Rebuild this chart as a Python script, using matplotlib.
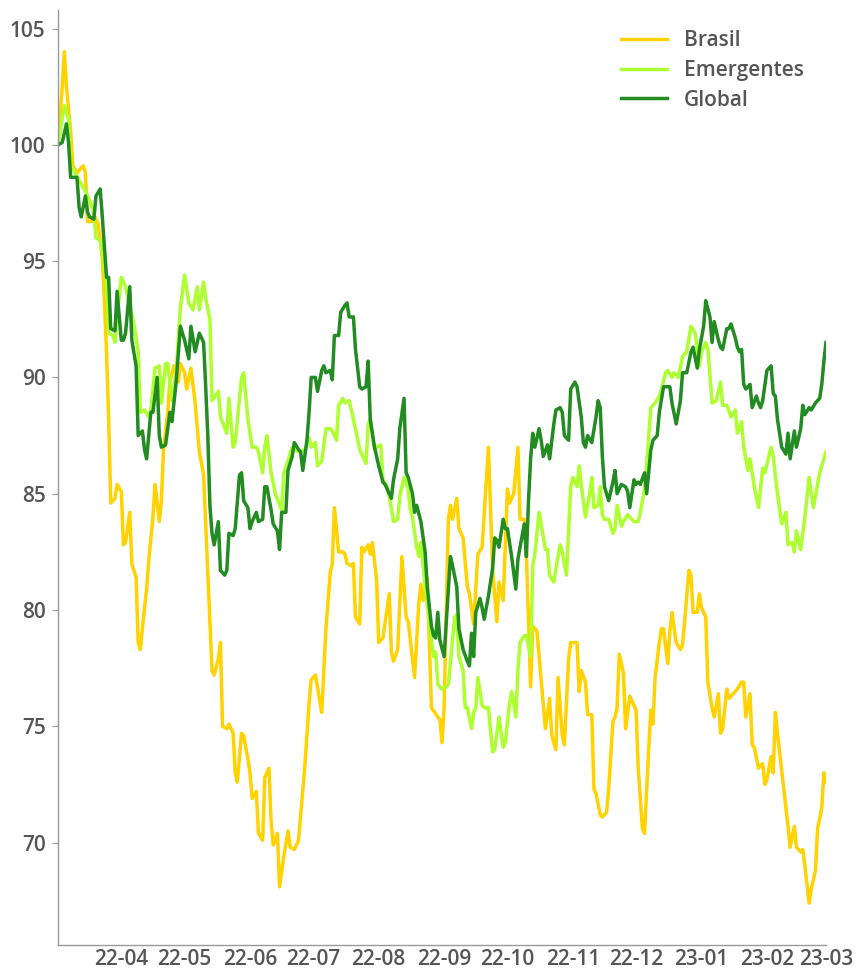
import matplotlib
matplotlib.use("Agg")
import matplotlib.pyplot as plt
import matplotlib.dates as mdates
import pandas as pd

start = pd.Timestamp("2022-03-01")

# Day offsets from 2022-03-01 and index values
brasil_days = [1, 3, 4, 5, 7, 8, 10, 11, 13, 14, 15, 17, 18, 20, 21, 22, 23, 24, 25, 26,
               28, 29, 31, 32, 33, 35, 36, 38, 39, 40, 42, 43, 44, 46, 47, 49, 50, 51, 53, 54,
               56, 58, 59, 61, 62, 64, 66, 68, 70, 72, 74, 75, 77, 78, 79, 81, 82, 84, 85, 86,
               88, 89, 91, 92, 93, 95, 96, 98, 99, 101, 102, 103, 105, 106, 108, 110, 111, 113, 115, 117,
               118, 120, 121, 123, 126, 128, 130, 131, 132, 134, 136, 137, 138, 140, 141, 142, 144, 145, 146, 148,
               149, 150, 152, 153, 155, 158, 159, 160, 162, 164, 166, 167, 170, 172, 173, 174, 176, 178, 181, 182,
               183, 184, 186, 187, 188, 190, 191, 193, 195, 196, 198, 200, 202, 205, 207, 209, 210, 212, 214, 215,
               217, 219, 220, 222, 223, 225, 226, 228, 232, 234, 235, 237, 238, 240, 241, 243, 244, 247, 248, 249,
               251, 252, 254, 255, 256, 258, 259, 261, 262, 264, 265, 266, 267, 269, 270, 272, 273, 275, 276, 278,
               279, 281, 282, 283, 284, 286, 287, 288, 290, 291, 292, 294, 296, 297, 298, 300, 301, 302, 304, 305,
               306, 308, 309, 311, 312, 314, 315, 316, 318, 319, 321, 323, 325, 326, 327, 329, 330, 331, 333, 335,
               336, 337, 339, 340, 341, 342, 344, 346, 347, 348, 350, 351, 353, 354, 355, 357, 358, 360, 361, 363,
               364, 365]
brasil_vals = [100.0, 102.5, 104.0, 102.5, 100.6, 99.1, 98.8, 98.9, 99.1, 98.8, 96.7, 96.7, 97.0, 96.6, 95.9, 95.1, 93.3, 91.1, 88.2, 84.6,
               84.8, 85.4, 85.1, 82.8, 82.9, 84.2, 82.0, 81.4, 78.6, 78.3, 80.1, 80.9, 82.1, 84.0, 85.4, 83.8, 84.7, 86.9, 88.5, 89.8,
               90.5, 89.8, 90.6, 90.2, 89.5, 90.4, 88.9, 86.8, 85.8, 81.6, 77.4, 77.2, 77.9, 78.6, 75.0, 74.9, 75.1, 74.7, 73.0, 72.6,
               74.7, 74.6, 73.6, 73.0, 71.9, 72.2, 70.4, 70.1, 72.8, 73.2, 70.9, 69.9, 70.4, 68.1, 69.4, 70.5, 69.8, 69.7, 70.1, 72.2,
               73.3, 76.0, 77.0, 77.2, 75.6, 79.2, 81.6, 82.0, 84.4, 82.5, 82.5, 82.4, 82.0, 81.9, 82.0, 79.7, 79.4, 82.7, 82.5, 82.8,
               82.4, 82.9, 81.3, 78.6, 78.8, 80.7, 78.2, 77.8, 78.3, 82.3, 79.7, 79.5, 77.1, 80.3, 81.1, 80.4, 81.4, 75.8, 75.4, 75.3,
               74.3, 75.8, 83.9, 84.5, 83.9, 84.8, 83.5, 83.1, 81.0, 80.7, 79.4, 82.4, 82.7, 87.0, 81.7, 79.5, 81.2, 80.4, 85.2, 84.6,
               85.0, 87.0, 83.9, 83.9, 82.4, 76.7, 79.3, 79.1, 74.9, 76.2, 74.6, 74.0, 77.1, 74.6, 74.2, 77.9, 78.6, 78.6, 76.5, 77.4,
               76.9, 75.5, 75.5, 72.3, 72.1, 71.2, 71.1, 71.3, 72.3, 75.2, 75.4, 75.8, 78.1, 77.3, 74.9, 76.3, 76.1, 75.7, 73.2, 70.6,
               70.4, 74.1, 75.7, 75.1, 77.1, 78.6, 79.2, 79.2, 77.7, 79.1, 79.9, 78.6, 78.3, 78.5, 79.5, 81.7, 81.5, 79.9, 79.9, 80.7,
               80.1, 79.7, 76.9, 75.8, 75.4, 76.4, 74.7, 74.9, 76.6, 76.2, 76.4, 76.6, 76.9, 76.9, 75.4, 76.4, 74.2, 74.1, 73.2, 73.4,
               72.5, 72.7, 73.7, 73.0, 75.6, 74.7, 73.1, 71.5, 70.7, 69.8, 70.7, 69.8, 69.6, 69.7, 69.0, 67.4, 68.0, 68.8, 70.6, 71.5,
               73.0, 72.6]

emerg_days = [1, 4, 6, 7, 9, 14, 16, 18, 19, 21, 22, 24, 25, 27, 28, 29, 31, 33, 34, 37,
              39, 40, 42, 44, 45, 47, 49, 50, 52, 53, 55, 57, 59, 61, 63, 65, 67, 68, 70, 71,
              73, 74, 77, 78, 81, 82, 84, 85, 88, 89, 91, 93, 95, 96, 98, 99, 100, 102, 104, 107,
              108, 110, 112, 115, 116, 118, 120, 121, 123, 124, 126, 128, 130, 131, 133, 134, 136, 137, 139, 141,
              144, 145, 147, 148, 149, 151, 152, 154, 155, 157, 159, 160, 162, 163, 165, 167, 168, 169, 171, 172,
              173, 175, 178, 179, 180, 181, 183, 185, 186, 189, 190, 191, 193, 194, 195, 197, 198, 199, 200, 202,
              203, 205, 207, 208, 210, 212, 213, 215, 216, 218, 219, 220, 222, 223, 225, 226, 227, 229, 230, 232,
              233, 234, 236, 237, 239, 240, 242, 243, 244, 245, 247, 248, 249, 251, 253, 254, 255, 257, 258, 259,
              260, 262, 264, 265, 266, 268, 269, 271, 272, 274, 276, 277, 279, 280, 282, 284, 286, 287, 289, 290,
              292, 293, 295, 297, 299, 301, 303, 305, 306, 308, 309, 310, 311, 313, 315, 316, 318, 320, 322, 323,
              325, 326, 328, 329, 331, 333, 335, 336, 339, 340, 342, 344, 346, 347, 349, 350, 351, 353, 355, 357,
              359, 362, 365]
emerg_vals = [100.0, 101.7, 101.1, 99.1, 98.8, 98.0, 97.6, 97.1, 96.0, 95.9, 95.4, 94.1, 91.9, 91.8, 91.5, 92.6, 94.3, 93.9, 93.5, 92.3,
              91.1, 88.5, 88.6, 88.3, 88.6, 90.4, 90.5, 88.9, 90.6, 90.6, 89.0, 90.2, 93.0, 94.4, 93.2, 92.9, 93.9, 92.9, 94.1, 93.4,
              92.5, 89.0, 89.4, 88.3, 87.6, 89.1, 87.0, 87.2, 90.0, 90.2, 88.2, 87.0, 87.0, 86.8, 85.9, 87.0, 87.5, 85.9, 85.0, 84.3,
              85.9, 86.4, 87.0, 86.8, 86.8, 86.9, 87.4, 87.0, 87.2, 86.2, 86.4, 87.8, 87.8, 87.7, 87.3, 88.8, 89.1, 88.9, 89.0, 88.2,
              86.9, 86.7, 86.3, 88.0, 88.2, 86.9, 87.0, 87.1, 85.6, 85.3, 84.4, 83.8, 83.9, 84.9, 85.7, 85.2, 84.3, 84.0, 82.7, 82.3,
              82.9, 81.0, 78.7, 78.0, 78.2, 76.8, 76.6, 76.7, 76.8, 79.7, 79.8, 78.0, 77.4, 75.8, 75.8, 74.9, 75.6, 75.8, 77.1, 75.9,
              75.8, 75.8, 73.9, 74.0, 75.4, 74.1, 74.3, 76.0, 76.5, 75.4, 77.4, 78.6, 78.9, 78.9, 78.0, 81.9, 82.4, 84.2, 83.7, 82.6,
              82.6, 81.5, 81.2, 81.8, 82.8, 82.5, 81.5, 83.4, 85.3, 85.7, 85.3, 86.2, 85.4, 84.0, 85.0, 85.7, 84.4, 84.5, 85.3, 84.1,
              83.9, 83.9, 83.3, 83.5, 84.5, 83.6, 83.8, 84.1, 84.0, 83.8, 83.8, 84.2, 85.2, 86.3, 88.7, 88.9, 89.2, 89.5, 90.2, 90.3,
              90.0, 90.2, 90.0, 90.9, 91.1, 92.2, 91.9, 90.5, 91.1, 91.5, 91.2, 90.1, 88.9, 89.0, 89.8, 88.8, 88.8, 88.3, 88.6, 87.6,
              88.1, 87.0, 86.0, 86.5, 85.3, 84.4, 86.1, 85.9, 87.0, 86.6, 85.0, 83.7, 84.2, 82.8, 82.9, 82.5, 83.4, 82.6, 84.0, 85.7,
              84.4, 85.9, 86.8]

global_days = [1, 3, 5, 6, 7, 9, 10, 11, 12, 14, 15, 16, 18, 19, 21, 22, 24, 25, 26, 28,
               29, 31, 32, 33, 35, 36, 38, 39, 41, 42, 43, 45, 46, 48, 49, 50, 52, 54, 55, 57,
               59, 61, 63, 64, 66, 68, 70, 71, 72, 73, 74, 75, 77, 78, 80, 81, 82, 84, 85, 87,
               88, 89, 91, 92, 93, 95, 96, 98, 99, 100, 102, 103, 105, 106, 107, 109, 110, 112, 113, 115,
               116, 117, 119, 120, 121, 123, 124, 126, 127, 128, 130, 131, 132, 134, 135, 137, 138, 139, 141, 142,
               144, 145, 147, 148, 149, 151, 153, 155, 156, 159, 160, 162, 163, 165, 166, 167, 169, 170, 171, 173,
               175, 176, 178, 179, 180, 181, 182, 184, 186, 187, 188, 190, 191, 193, 195, 196, 197, 198, 199, 201,
               202, 203, 205, 207, 208, 209, 210, 212, 213, 214, 216, 218, 219, 221, 222, 223, 224, 225, 226, 227,
               229, 230, 231, 233, 234, 236, 237, 239, 240, 241, 243, 244, 246, 247, 249, 250, 251, 252, 254, 256,
               257, 258, 259, 260, 262, 264, 265, 266, 268, 270, 271, 272, 274, 275, 276, 277, 279, 280, 282, 283,
               285, 286, 288, 291, 292, 294, 296, 297, 299, 301, 302, 304, 305, 307, 308, 310, 311, 312, 314, 315,
               316, 318, 319, 320, 322, 323, 324, 325, 326, 327, 329, 330, 332, 333, 334, 335, 337, 339, 340, 341,
               342, 344, 346, 347, 348, 350, 351, 353, 354, 355, 357, 358, 360, 362, 363, 364, 365]
global_vals = [100.0, 100.1, 100.9, 100.1, 98.6, 98.6, 98.6, 97.3, 96.9, 97.8, 97.1, 96.9, 96.8, 97.8, 98.1, 96.9, 94.3, 94.3, 92.1, 92.0,
               93.7, 91.6, 91.6, 91.9, 93.9, 91.6, 90.5, 87.5, 87.7, 86.9, 86.5, 88.5, 88.5, 90.0, 87.5, 87.0, 87.1, 88.5, 88.1, 89.8,
               92.2, 91.6, 90.8, 92.2, 91.1, 91.9, 91.5, 89.6, 87.5, 84.5, 83.3, 82.8, 83.8, 81.7, 81.5, 81.7, 83.3, 83.2, 83.5, 85.8,
               85.9, 84.7, 84.4, 83.5, 83.8, 84.2, 83.8, 83.9, 85.3, 85.3, 84.3, 83.7, 83.4, 82.6, 84.2, 84.2, 86.0, 86.6, 87.2, 86.9,
               86.8, 86.0, 87.3, 88.5, 90.0, 90.0, 89.4, 90.3, 90.5, 90.2, 90.3, 89.9, 91.8, 91.8, 92.8, 93.1, 93.2, 92.6, 92.6, 91.2,
               89.6, 89.5, 89.6, 90.7, 88.2, 87.0, 86.2, 85.5, 85.4, 84.8, 85.6, 86.5, 87.8, 89.1, 85.9, 85.7, 85.0, 84.2, 84.5, 83.8,
               82.5, 81.0, 79.3, 78.9, 78.8, 79.9, 78.7, 78.0, 80.9, 82.3, 81.9, 81.0, 79.2, 78.3, 77.8, 77.6, 79.0, 78.0, 79.9, 80.5,
               80.1, 79.6, 80.6, 81.8, 83.1, 83.0, 82.7, 83.9, 83.5, 83.5, 82.3, 80.9, 82.2, 83.2, 83.7, 82.3, 84.7, 86.5, 87.6, 87.0,
               87.8, 87.3, 86.6, 87.1, 86.5, 88.0, 88.6, 88.7, 88.5, 87.5, 87.3, 89.5, 89.8, 89.6, 88.3, 87.2, 87.0, 87.5, 87.2, 88.3,
               89.0, 88.7, 86.6, 85.3, 84.7, 85.5, 86.0, 85.0, 85.4, 85.3, 85.1, 84.4, 85.6, 85.4, 85.5, 85.4, 85.9, 85.0, 86.9, 87.3,
               87.5, 88.5, 89.6, 89.6, 88.9, 88.0, 89.0, 90.2, 90.2, 91.1, 91.3, 90.4, 91.2, 92.2, 93.3, 92.6, 91.5, 92.4, 91.6, 91.3,
               91.2, 92.1, 92.1, 92.3, 91.7, 91.3, 91.1, 91.2, 89.7, 89.5, 89.7, 88.7, 89.2, 88.9, 88.7, 89.0, 90.3, 90.5, 89.3, 89.2,
               88.2, 87.0, 86.7, 87.6, 86.5, 87.7, 87.0, 87.8, 88.8, 88.4, 88.7, 88.6, 88.9, 89.1, 89.7, 90.7, 91.5]

series_names = ["Brasil", "Emergentes", "Global"]
series_colors = ["#FFD200", "#ADFF2F", "#228B22"]
y_ticks = [70, 75, 80, 85, 90, 95, 100, 105]

def to_dates(days):
    return start + pd.to_timedelta(days, unit="D")

text_color = "#555555"
plt.rcParams["font.family"] = ["Open Sans", "DejaVu Sans"]

fig = plt.figure(figsize=(8.58, 9.71), dpi=100)
ax = fig.add_axes([0.0676, 0.0268, 0.8951, 0.963])

for name, days, vals, col in zip(series_names,
                                 [brasil_days, emerg_days, global_days],
                                 [brasil_vals, emerg_vals, global_vals],
                                 series_colors):
    ax.plot(to_dates(days), vals, color=col, lw=2.5, label=name)

ax.set_xlim(to_dates([1])[0], to_dates([365])[0])
ax.set_ylim(65.6, 105.8)
ax.set_yticks(y_ticks)

ax.xaxis.set_major_locator(mdates.MonthLocator())
ax.xaxis.set_major_formatter(mdates.DateFormatter("%y-%m"))
ticks = [t for t in ax.get_xticks()]
ax.set_xticks([t for t in ticks if t > mdates.date2num(to_dates([2])[0])])

for s in ["top", "right"]:
    ax.spines[s].set_visible(False)
for s in ["left", "bottom"]:
    ax.spines[s].set_color("#999999")
    ax.spines[s].set_linewidth(1.0)

ax.tick_params(axis="both", colors="#999999", labelcolor=text_color, labelsize=15, length=4)
ax.tick_params(axis="x", length=0, pad=3)
ax.tick_params(axis="y", pad=5)
for lab in ax.get_xticklabels() + ax.get_yticklabels():
    lab.set_fontweight("semibold")

leg = ax.legend(loc="upper right", frameon=False, fontsize=15, handlelength=2.2,
                handletextpad=0.8, labelspacing=0.42, borderaxespad=0.3,
                bbox_to_anchor=(0.99, 0.994))
for t in leg.get_texts():
    t.set_color(text_color)
    t.set_fontweight("semibold")

fig.savefig("out.png", dpi=100)
